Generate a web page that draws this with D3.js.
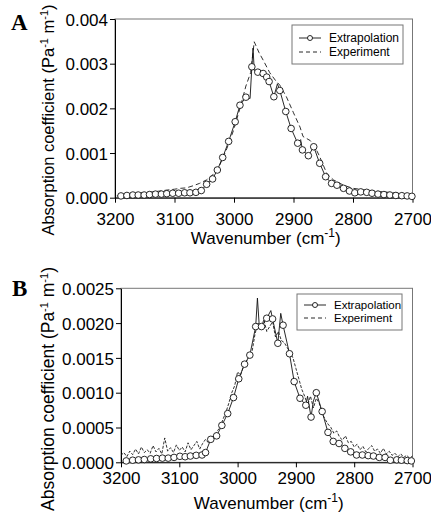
<!DOCTYPE html>
<html>
<head>
<meta charset="utf-8">
<script src="https://cdn.jsdelivr.net/npm/d3@7"></script>
<style>
  body { margin: 0; background: #fff; }
  svg { display: block; font-family: "Liberation Sans", Arial, sans-serif; }
  .frame { fill: none; stroke: #777; stroke-width: 1; }
  .axis path, .axis line { stroke: #000; }
  .axis text { font-size: 17px; fill: #000; }
</style>
</head>
<body>
<div id="chart"></div>
<script>
// x ticks shared by both panels
var xTicks = [3200, 3100, 3000, 2900, 2800, 2700];
var yTicksA = [0, 0.001, 0.002, 0.003, 0.004];
var yTicksB = [0, 0.0005, 0.0010, 0.0015, 0.0020, 0.0025];

// Panel A, extrapolation markers (wavenumber, value x 1e-3)
var extrapA_wn  = [3190, 3180, 3170, 3161, 3151, 3142, 3132, 3122, 3113, 3103, 3093, 3083, 3074, 3064,
  3055, 3046, 3036, 3028, 3019, 3009, 2998, 2990, 2980, 2970, 2960, 2951, 2945, 2941, 2933, 2923,
  2913, 2904, 2893, 2885, 2875, 2866, 2856, 2846, 2836, 2827, 2816, 2806, 2797, 2787, 2777, 2768,
  2758, 2748, 2738, 2728, 2718, 2709, 2701];
var extrapA_val = [0.04, 0.05, 0.06, 0.06, 0.06, 0.07, 0.08, 0.08, 0.09, 0.10, 0.10, 0.11, 0.11, 0.12,
  0.16, 0.30, 0.42, 0.62, 0.90, 1.26, 1.70, 2.07, 2.25, 2.93, 2.81, 2.78, 2.70, 2.60, 2.26, 2.40,
  1.93, 1.55, 1.22, 1.07, 0.94, 1.14, 0.77, 0.47, 0.32, 0.28, 0.21, 0.15, 0.11, 0.13, 0.12, 0.10,
  0.08, 0.07, 0.06, 0.05, 0.045, 0.04, 0.03];
// extra points of the solid line between markers (spikes)
var spikesA_wn  = [2973, 2968, 2966, 2927, 2888];
var spikesA_val = [2.22, 3.35, 2.85, 2.55, 1.30];

// Panel A, experiment (dashed)
var experA_wn  = [3197, 3185, 3170, 3158, 3145, 3130, 3113, 3100, 3090, 3080, 3068, 3058, 3046, 3035,
  3024, 3012, 3001, 2990, 2980, 2972, 2966, 2958, 2951, 2940, 2930, 2923, 2912, 2900, 2889, 2884,
  2872, 2864, 2856, 2844, 2833, 2816, 2800, 2777, 2749, 2721, 2700];
var experA_val = [0.04, 0.06, 0.08, 0.11, 0.12, 0.14, 0.17, 0.19, 0.21, 0.22, 0.27, 0.32, 0.40, 0.52,
  0.73, 1.10, 1.50, 2.00, 2.50, 2.80, 3.49, 3.25, 3.08, 2.80, 2.62, 2.52, 2.26, 1.90, 1.58, 1.37,
  1.28, 1.14, 0.92, 0.54, 0.40, 0.28, 0.21, 0.17, 0.13, 0.10, 0.07];

// Panel B, extrapolation markers
var extrapB_wn  = [3191, 3180, 3170, 3160, 3149, 3139, 3129, 3119, 3109, 3099, 3090, 3081, 3071, 3061,
  3055, 3046, 3036, 3027, 3017, 3007, 2998, 2988, 2979, 2969, 2959, 2950, 2940, 2931, 2922, 2911,
  2903, 2893, 2883, 2874, 2865, 2855, 2845, 2836, 2826, 2816, 2806, 2796, 2786, 2776, 2767, 2757,
  2747, 2738, 2727, 2719, 2709, 2702];
var extrapB_val = [0.02, 0.03, 0.035, 0.04, 0.05, 0.055, 0.06, 0.06, 0.07, 0.086, 0.08, 0.09, 0.10, 0.105,
  0.14, 0.33, 0.38, 0.53, 0.70, 0.93, 1.20, 1.41, 1.54, 1.95, 1.95, 2.07, 2.06, 1.71, 1.97, 1.56,
  1.16, 0.92, 0.82, 0.65, 1.00, 0.73, 0.43, 0.30, 0.27, 0.20, 0.15, 0.105, 0.105, 0.096, 0.09, 0.07,
  0.07, 0.03, 0.035, 0.03, 0.025, 0.02];
var spikesB_wn  = [2966, 2963, 2943, 2926, 2880, 2870];
var spikesB_val = [2.36, 1.98, 2.18, 2.14, 0.95, 0.88];

// Panel B, experiment (dashed, noisy) every 5 cm-1 from 3200 to 2700
var experB_wn = d3.range(3200, 2699, -5);
var experB_val = [
  0.10, 0.14, 0.08, 0.16, 0.11, 0.19, 0.12, 0.22, 0.14, 0.18, 0.13,
  0.24, 0.15, 0.20, 0.12, 0.35, 0.16, 0.21, 0.14, 0.25, 0.17,
  0.22, 0.15, 0.28, 0.18, 0.24, 0.30, 0.19, 0.27, 0.33, 0.28,
  0.34, 0.38, 0.45, 0.50, 0.62, 0.72, 0.85, 1.00, 1.10, 1.30,
  1.25, 1.38, 1.45, 1.52, 1.60, 1.85, 2.00, 1.92, 2.05, 1.88,
  1.95, 2.02, 1.80, 1.88, 1.75, 1.72, 1.65, 1.58, 1.50, 1.35,
  1.20, 1.05, 0.95, 0.82, 0.95, 0.78, 0.92, 0.85, 0.70, 0.62,
  0.55, 0.50, 0.42, 0.45, 0.36, 0.32, 0.38, 0.28, 0.30, 0.22,
  0.26, 0.18, 0.23, 0.15, 0.20, 0.24, 0.16, 0.19, 0.13, 0.20,
  0.12, 0.16, 0.10, 0.13, 0.08, 0.12, 0.07, 0.10, 0.06, 0.09];

var legendLabels = ["Extrapolation", "Experiment"];

var svg = d3.select("#chart").append("svg")
  .attr("width", 431)
  .attr("height", 513);

function pairs(wn, val) {
  return wn.map(function(w, i) { return {x: w, y: val[i] * 1e-3}; });
}

function drawPanel(p) {
  var x = d3.scaleLinear().domain([3200, 2700]).range([p.left, p.right]);
  var y = d3.scaleLinear().domain([0, p.ymax]).range([p.bottom, p.top]);
  var g = svg.append("g");

  // box
  g.append("rect").attr("class", "frame")
    .attr("x", p.left).attr("y", p.top)
    .attr("width", p.right - p.left).attr("height", p.bottom - p.top);

  g.append("g").attr("class", "axis")
    .attr("transform", "translate(0," + p.bottom + ")")
    .call(d3.axisBottom(x).tickValues(xTicks).tickFormat(d3.format("d"))
      .tickSize(5).tickSizeOuter(0).tickPadding(p.xPad));

  g.append("g").attr("class", "axis")
    .attr("transform", "translate(" + p.left + ",0)")
    .call(d3.axisLeft(y).tickValues(p.yTicks).tickFormat(d3.format(p.fmt))
      .tickSize(5).tickSizeOuter(0).tickPadding(2))
    .selectAll("text").attr("dy", "0.36em");

  var line = d3.line().x(function(d) { return x(d.x); }).y(function(d) { return y(d.y); });

  var exper = pairs(p.experWn, p.experVal);
  g.append("path").datum(exper)
    .attr("fill", "none").attr("stroke", "#1a1a1a").attr("stroke-width", 0.9)
    .attr("stroke-dasharray", p.dash)
    .attr("d", line);

  var marks = pairs(p.extrapWn, p.extrapVal);
  var solid = marks.concat(pairs(p.spikeWn, p.spikeVal))
    .sort(function(a, b) { return b.x - a.x; });
  g.append("path").datum(solid)
    .attr("fill", "none").attr("stroke", "#111").attr("stroke-width", 0.9)
    .attr("d", line);

  g.selectAll("circle.mk").data(marks).enter().append("circle")
    .attr("class", "mk")
    .attr("cx", function(d) { return x(d.x); })
    .attr("cy", function(d) { return y(d.y); })
    .attr("r", 3.3)
    .attr("fill", "#fff").attr("stroke", "#111").attr("stroke-width", 0.9);

  // legend
  var L = p.legend;
  g.append("rect").attr("x", L.x).attr("y", L.y).attr("width", L.w).attr("height", L.h)
    .attr("fill", "#fff").attr("stroke", "#777");
  legendLabels.forEach(function(lab, i) {
    var ly = L.y + L.row0 + i * L.dy;
    var ln = g.append("line").attr("x1", L.x + 7).attr("x2", L.x + 29)
      .attr("y1", ly).attr("y2", ly).attr("stroke", "#111").attr("stroke-width", 0.9);
    if (i === 1) ln.attr("stroke-dasharray", "4,3");
    else g.append("circle").attr("cx", L.x + 18).attr("cy", ly).attr("r", 2.5)
      .attr("fill", "#fff").attr("stroke", "#111").attr("stroke-width", 0.9);
    g.append("text").attr("x", L.x + 37).attr("y", ly).attr("dy", "0.35em")
      .attr("font-size", L.fs).text(lab);
  });

  // panel letter
  g.append("text").attr("x", p.letterX).attr("y", p.letterY)
    .attr("font-family", "'Liberation Serif', 'Times New Roman', serif")
    .attr("font-weight", "bold").attr("font-size", 23).text(p.letter);

  // y title
  var yt = g.append("text")
    .attr("transform", "translate(" + p.ytX + "," + p.ytY + ") rotate(-90)")
    .attr("text-anchor", "middle").attr("font-size", p.ytFs);
  yt.append("tspan").text("Absorption coefficient (Pa");
  yt.append("tspan").attr("dy", -6).attr("font-size", 11).text("-1");
  yt.append("tspan").attr("dy", 6).text(" m");
  yt.append("tspan").attr("dy", -6).attr("font-size", 11).text("-1");
  yt.append("tspan").attr("dy", 6).text(")");

  // x title
  var xt = g.append("text").attr("x", (p.left + p.right) / 2 + 2).attr("y", p.xtY)
    .attr("text-anchor", "middle").attr("font-size", 17);
  xt.append("tspan").text("Wavenumber (cm");
  xt.append("tspan").attr("dy", -7).attr("font-size", 12).text("-1");
  xt.append("tspan").attr("dy", 7).text(")");
}

drawPanel({
  left: 115, right: 412.5, top: 19, bottom: 197.7, ymax: 0.004,
  yTicks: yTicksA, fmt: ".3f", xPad: 10, dash: "5,3",
  extrapWn: extrapA_wn, extrapVal: extrapA_val, spikeWn: spikesA_wn, spikeVal: spikesA_val,
  experWn: experA_wn, experVal: experA_val,
  legend: {x: 292, y: 25, w: 111, h: 39, row0: 13, dy: 14, fs: 12},
  letter: "A", letterX: 11, letterY: 30,
  ytX: 54, ytY: 120, ytFs: 16.5, xtY: 244
});

drawPanel({
  left: 121, right: 412.5, top: 288.3, bottom: 462.3, ymax: 0.0025,
  yTicks: yTicksB, fmt: ".4f", xPad: 5, dash: "3,1.5",
  extrapWn: extrapB_wn, extrapVal: extrapB_val, spikeWn: spikesB_wn, spikeVal: spikesB_val,
  experWn: experB_wn, experVal: experB_val,
  legend: {x: 297, y: 294, w: 105, h: 36, row0: 11, dy: 13, fs: 11.5},
  letter: "B", letterX: 12, letterY: 296,
  ytX: 54, ytY: 389, ytFs: 17.5, xtY: 509
});
</script>
</body>
</html>
